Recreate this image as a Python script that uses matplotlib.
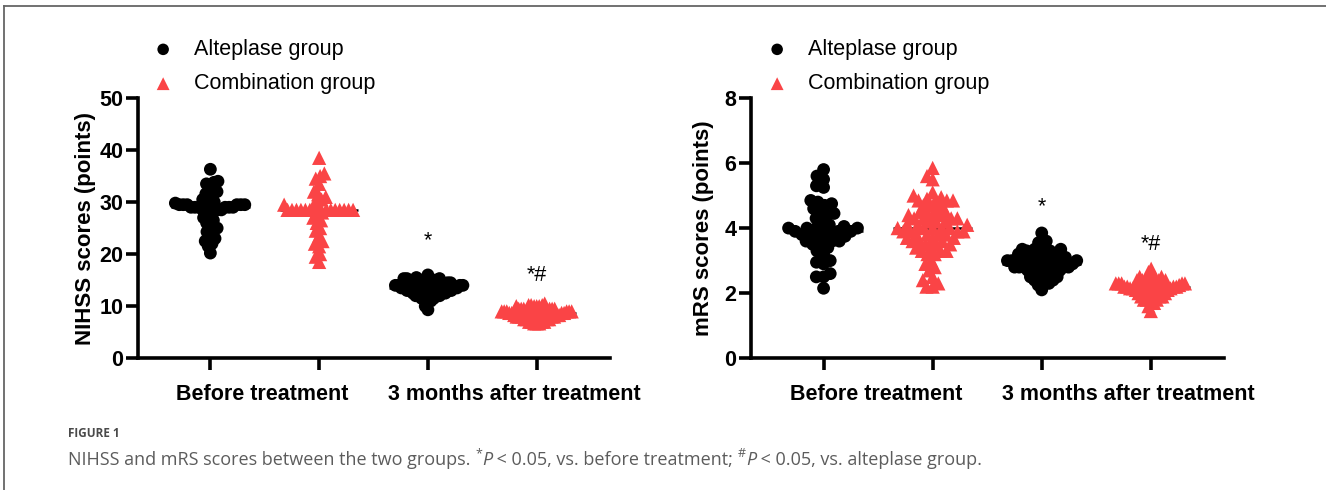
import numpy as np
import matplotlib
matplotlib.use("Agg")
import matplotlib.pyplot as plt
from matplotlib.lines import Line2D

plt.rcParams['font.family'] = ['Liberation Sans', 'DejaVu Sans']

# categories / groups
groups = ["Alteplase group", "Combination group"]
timepoints = ["Before treatment", "3 months after treatment"]

# NIHSS scores (points)
nihss_alt_before = [36.3, 34.0, 33.8, 33.5, 33.2, 32.0, 31.6, 31.5, 31.0, 30.5, 30.0, 29.8,
                    29.5, 29.5, 29.5, 29.5, 29.5, 29.5, 29.5, 29.5,
                    29.0, 29.0, 29.0, 29.0, 29.0, 29.0, 28.5, 28.5, 28.5, 28.5,
                    28.0, 27.5, 27.0, 26.5, 26.0, 25.5, 25.0, 24.5, 24.3, 23.5,
                    23.0, 22.5, 22.0, 21.5, 20.2]
nihss_comb_before = [38.5, 35.5, 35.0, 34.5, 33.5, 32.0, 31.5, 31.0, 30.5, 30.0, 29.5, 29.2,
                     28.5, 28.5, 28.5, 28.5, 28.5, 28.5, 28.5, 28.5, 28.5, 28.5, 28.5, 28.5,
                     28.5, 28.5, 28.0, 27.5, 27.0, 26.5, 26.0, 25.0, 24.5, 23.5, 22.5,
                     22.0, 21.5, 20.0, 19.5, 18.5]
nihss_alt_after = [16.0, 15.5, 15.3, 15.3, 15.3, 15.0, 15.0, 15.0, 15.0,
                   14.5, 14.5, 14.5, 14.5, 14.5, 14.5, 14.0, 14.0, 14.0, 14.0, 14.0, 14.0, 14.0, 14.0,
                   13.5, 13.5, 13.5, 13.5, 13.5, 13.5, 13.5, 13.5, 13.0, 13.0, 13.0, 13.0, 13.0, 13.0,
                   12.5, 12.5, 12.5, 12.5, 12.5, 12.0, 12.0, 12.0, 12.0, 11.5, 11.5, 11.5,
                   11.0, 11.0, 10.0, 9.3]
nihss_comb_after = [10.5, 10.2, 10.2, 10.2, 10.0, 10.0, 10.0, 10.0,
                    9.5, 9.5, 9.5, 9.5, 9.5, 9.5, 9.0, 9.0, 9.0, 9.0, 9.0, 9.0, 9.0, 9.0,
                    8.7, 8.7, 8.7, 8.7, 8.7, 8.7, 8.7, 8.7, 8.3, 8.3, 8.3, 8.3, 8.3, 8.3,
                    8.0, 8.0, 8.0, 8.0, 8.0, 7.5, 7.5, 7.5, 7.5, 7.0, 7.0, 7.0, 7.0,
                    6.7, 6.7, 6.7]

# mRS scores (points)
mrs_alt_before = [5.8, 5.6, 5.5, 5.3, 5.25, 4.85, 4.8, 4.75, 4.7, 4.6, 4.5, 4.45, 4.4, 4.3,
                  4.2, 4.1, 4.05, 4.0, 4.0, 4.0, 4.0, 3.95, 3.9, 3.9, 3.9, 3.85, 3.8, 3.8,
                  3.75, 3.75, 3.7, 3.6, 3.6, 3.6, 3.5, 3.5, 3.4, 3.3, 3.2, 3.0, 2.95, 2.9,
                  2.6, 2.5, 2.5, 2.15]
mrs_comb_before = [5.85, 5.6, 5.5, 5.1, 5.0, 4.95, 4.9, 4.85, 4.85, 4.85, 4.85, 4.7, 4.7, 4.7,
                   4.6, 4.5, 4.5, 4.5, 4.4, 4.4, 4.4, 4.3, 4.3, 4.3, 4.3, 4.2, 4.2, 4.2,
                   4.1, 4.1, 4.1, 4.0, 4.0, 4.0, 4.0, 4.0, 3.9, 3.9, 3.9, 3.9, 3.8, 3.8, 3.8, 3.8,
                   3.7, 3.7, 3.7, 3.6, 3.6, 3.6, 3.5, 3.5, 3.5, 3.4, 3.4, 3.3, 3.3, 3.3,
                   3.2, 3.2, 3.0, 2.9, 2.8, 2.7, 2.5, 2.4, 2.3, 2.2, 2.2]
mrs_alt_after = [3.85, 3.6, 3.55, 3.45, 3.35, 3.35, 3.35, 3.3, 3.3, 3.3, 3.2, 3.2, 3.2, 3.2,
                 3.1, 3.1, 3.1, 3.1, 3.1, 3.0, 3.0, 3.0, 3.0, 3.0, 2.9, 2.9, 2.9, 2.9, 2.9, 2.9,
                 2.8, 2.8, 2.8, 2.8, 2.8, 2.8, 2.7, 2.7, 2.7, 2.7, 2.6, 2.6, 2.6, 2.5, 2.5, 2.5,
                 2.4, 2.4, 2.3, 2.3, 2.25, 2.1]
mrs_comb_after = [2.75, 2.65, 2.55, 2.5, 2.5, 2.5, 2.4, 2.4, 2.4, 2.4, 2.35, 2.35, 2.35,
                  2.3, 2.3, 2.3, 2.3, 2.3, 2.25, 2.25, 2.25, 2.25, 2.2, 2.2, 2.2, 2.2, 2.2,
                  2.15, 2.15, 2.15, 2.15, 2.15, 2.1, 2.1, 2.1, 2.1, 2.1, 2.0, 2.0, 2.0, 2.0,
                  1.9, 1.9, 1.9, 1.9, 1.8, 1.8, 1.8, 1.7, 1.7, 1.6, 1.45]

# significance marks: (column, y, text)
nihss_marks = [(2, 22.6, "*"), (3, 15.8, "*#")]
mrs_marks = [(2, 4.65, "*"), (3, 3.5, "*#")]

RED = "#FA4446"
FS = 15.5


def swarm(ax, xc, vals, d, half_w):
    # beeswarm offsets computed in pixel space, then put back into data units
    pts = ax.transData.transform(np.column_stack([np.full(len(vals), xc), vals]))
    ypx = pts[:, 1]
    order = np.argsort(ypx)
    xs = np.zeros(len(vals))
    placed = []
    for i in order:
        y = ypx[i]
        near = [(xj, yj) for xj, yj in placed if abs(yj - y) < d]
        cands = [0.0]
        for xj, yj in near:
            r = np.sqrt(d * d - (yj - y) ** 2)
            cands += [xj - r, xj + r]
        cands.sort(key=abs)
        for c in cands:
            if all((c - xj) ** 2 + (y - yj) ** 2 >= d * d - 1e-6 for xj, yj in near):
                xs[i] = c
                break
        placed.append((xs[i], y))
    m = np.abs(xs).max()
    if m > half_w:
        xs *= half_w / m
    px = pts[:, 0] + xs
    out = ax.transData.inverted().transform(np.column_stack([px, ypx]))
    return out[:, 0], out[:, 1]


fig = plt.figure(figsize=(13.26, 4.9), dpi=100)

panels = [
    ([0.1041, 0.269, 0.356, 0.531], 50, 10, "NIHSS scores (points)",
     [nihss_alt_before, nihss_comb_before, nihss_alt_after, nihss_comb_after], nihss_marks,
     154, -0.088),
    ([0.5664, 0.269, 0.357, 0.531], 8, 2, "mRS scores (points)",
     [mrs_alt_before, mrs_comb_before, mrs_alt_after, mrs_comb_after], mrs_marks,
     768, -0.078),
]

for rect, ymax, ystep, ylab, cols, marks, leg_x, lab_x in panels:
    ax = fig.add_axes(rect)
    ax.set_xlim(-0.665, 3.675)
    ax.set_ylim(0, ymax)
    for s in ["top", "right"]:
        ax.spines[s].set_visible(False)
    for s in ["left", "bottom"]:
        ax.spines[s].set_linewidth(2.6)
        ax.spines[s].set_capstyle("projecting")
    ax.set_yticks(np.arange(0, ymax + 0.01, ystep))
    ax.set_xticks([0, 1, 2, 3])
    ax.set_xticklabels([])
    ax.tick_params(axis="both", direction="out", length=8.5, width=2.6)
    ax.tick_params(axis="y", pad=2)
    for lab in ax.get_yticklabels():
        lab.set_fontweight("bold")
        lab.set_fontsize(FS)
    ax.set_ylabel(ylab, fontsize=FS + 0.5, fontweight="bold")
    ax.yaxis.set_label_coords(lab_x, 0.5)

    handles = []
    for k, vals in enumerate(cols):
        is_comb = k % 2 == 1
        x, y = swarm(ax, k, vals, 8.0, 35)
        if is_comb:
            h = ax.scatter(x, y, s=105, marker="^", color=RED, edgecolors="none",
                           zorder=3, clip_on=False)
        else:
            h = ax.scatter(x, y, s=85, marker="o", color="black", edgecolors="none",
                           zorder=3, clip_on=False)
        handles.append(h)
        med = np.median(vals)
        ax.hlines(med, k - 0.36, k + 0.36, color="black", lw=1.8, zorder=2.5)

    for xc, yv, txt in marks:
        ax.text(xc, yv, txt, ha="center", va="center", fontsize=FS)

    ax.text(0.48, -0.138, timepoints[0], transform=ax.get_xaxis_transform(),
            ha="center", va="center", fontsize=FS, fontweight="bold")
    ax.text(2.79, -0.138, timepoints[1], transform=ax.get_xaxis_transform(),
            ha="center", va="center", fontsize=FS, fontweight="bold")

    ax.legend(handles[:2], groups, loc="upper left",
              bbox_to_anchor=(leg_x / 1326, 1 - 39 / 490), bbox_transform=fig.transFigure,
              frameon=False, fontsize=FS, borderpad=0, borderaxespad=0,
              handlelength=0.85, handletextpad=1.0, labelspacing=0.62, markerscale=0.9)

# frame lines (top and left only)
fig.add_artist(Line2D([4 / 1326, 1], [1 - 6 / 490, 1 - 6 / 490], color="#666666", lw=1.3))
fig.add_artist(Line2D([4 / 1326, 4 / 1326], [0, 1 - 6 / 490], color="#666666", lw=1.3))

# caption
cap_font = ["Open Sans", "DejaVu Sans"]
fig.text(68 / 1326, 1 - 433 / 490, "FIGURE 1", fontsize=8.5, fontweight="bold",
         color="#4a4a4a", family=cap_font, va="center")

runs = [
    ("NIHSS and mRS scores between the two groups. ", {}),
    ("*", {"sup": True}),
    ("P", {"style": "italic"}),
    (" < 0.05, vs. before treatment; ", {}),
    ("#", {"sup": True}),
    ("P", {"style": "italic"}),
    (" < 0.05, vs. alteplase group.", {}),
]
renderer = fig.canvas.get_renderer()
xpix = 68
ybase = 490 - 458
for txt, opt in runs:
    size = 9 if opt.get("sup") else 13.0
    yy = ybase + (6 if opt.get("sup") else 0)
    t = fig.text(xpix / 1326, yy / 490, txt, fontsize=size, color="#5c5c5c",
                 family=cap_font, style=opt.get("style", "normal"), va="center_baseline")
    bb = t.get_window_extent(renderer)
    xpix += bb.width

fig.savefig("out.png", dpi=100)
